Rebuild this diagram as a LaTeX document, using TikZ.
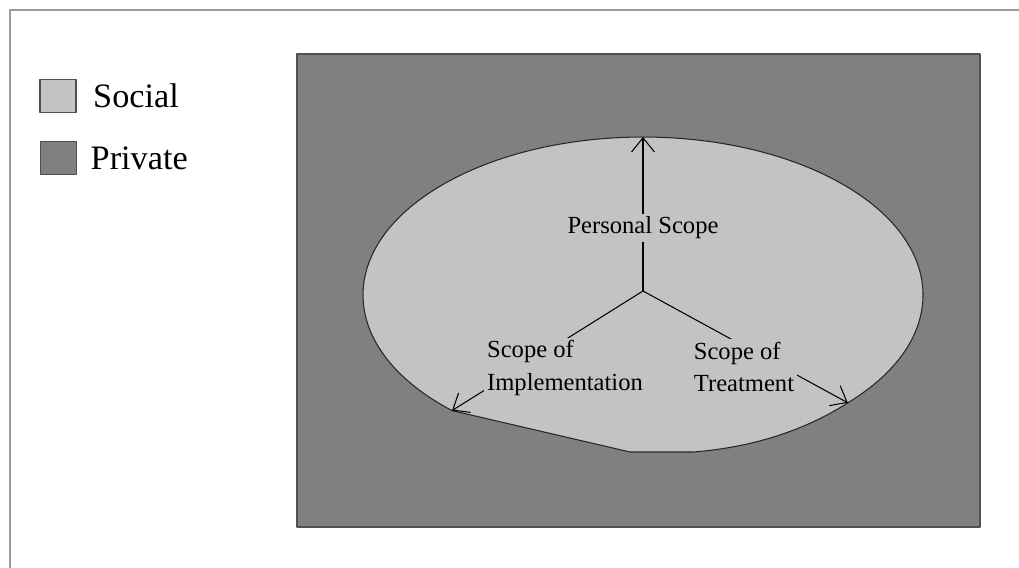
\documentclass[tikz,border=0pt]{standalone}
\usepackage{fontspec}
\setmainfont{Liberation Serif}
\usetikzlibrary{positioning,arrows.meta}
\definecolor{socialgray}{HTML}{C3C3C3}
\definecolor{privategray}{HTML}{808080}
\definecolor{framegray}{HTML}{9C9C9C}
\definecolor{edgegray}{HTML}{505050}
\begin{document}
\begin{tikzpicture}[x=0.02cm, y=0.02cm, line join=round, line cap=round,
		>={Straight Barb[length=8pt,width=13pt]},
		swatch/.style={draw=edgegray, line width=1pt, minimum width=0.72cm, minimum height=0.66cm, inner sep=0pt},
		legendtext/.style={font=\fontsize{19.5}{22}\selectfont, inner sep=0pt},
		scopelabel/.style={fill=socialgray, inner sep=1.5pt, align=left, font=\fontsize{14}{18.5}\selectfont}]
				\useasboundingbox (0,0) rectangle (1019,568);
				% Outer frame (only top and left show)
				\draw[framegray, line width=1.2pt] (10,0) -- (10,558) -- (1019,558);
				
				% Private area
				\filldraw[fill=privategray, draw=edgegray, line width=1pt] (297,41) rectangle (980,514);
				
				% Points on the social region
				\coordinate (hub) at (643,277);
				\coordinate (top) at (643,431);
				\coordinate (tipL) at (452,157.4);
				\coordinate (tipR) at (847.8,165.2);
				
				% Social region: ellipse with a flattened bottom
				\filldraw[fill=socialgray, draw=black!85, line width=0.6pt] (tipR)
					arc[start angle=-43, end angle=227, x radius=280, y radius=158]
					-- (630,116) -- (693,116) .. controls (760,121) and (812,142) .. (tipR) -- cycle;
				
				% Scope arrows
				\draw[->, line width=0.6pt] (hub) -- (top);
				\draw[->, line width=0.6pt] (hub) -- (tipL);
				\draw[->, line width=0.6pt] (hub) -- (tipR);
				
				% Labels over the arrows
				\node[scopelabel] (personal) at (643,340) {Personal Scope};
				\node[scopelabel] (implement) at (565,200) {Scope of\\Implementation};
				\node[scopelabel] (treatment) at (744,201) {Scope of\\Treatment};
				
				% Legend
				\node[swatch, fill=socialgray] (socbox) at (58,472) {};
				\node[legendtext, right=0.32cm of socbox] (soctext) {Social};
				\node[swatch, fill=privategray] (privbox) at (58.5,410) {};
				\node[legendtext, right=0.26cm of privbox] (privtext) {Private};
			\end{tikzpicture}
\end{document}
